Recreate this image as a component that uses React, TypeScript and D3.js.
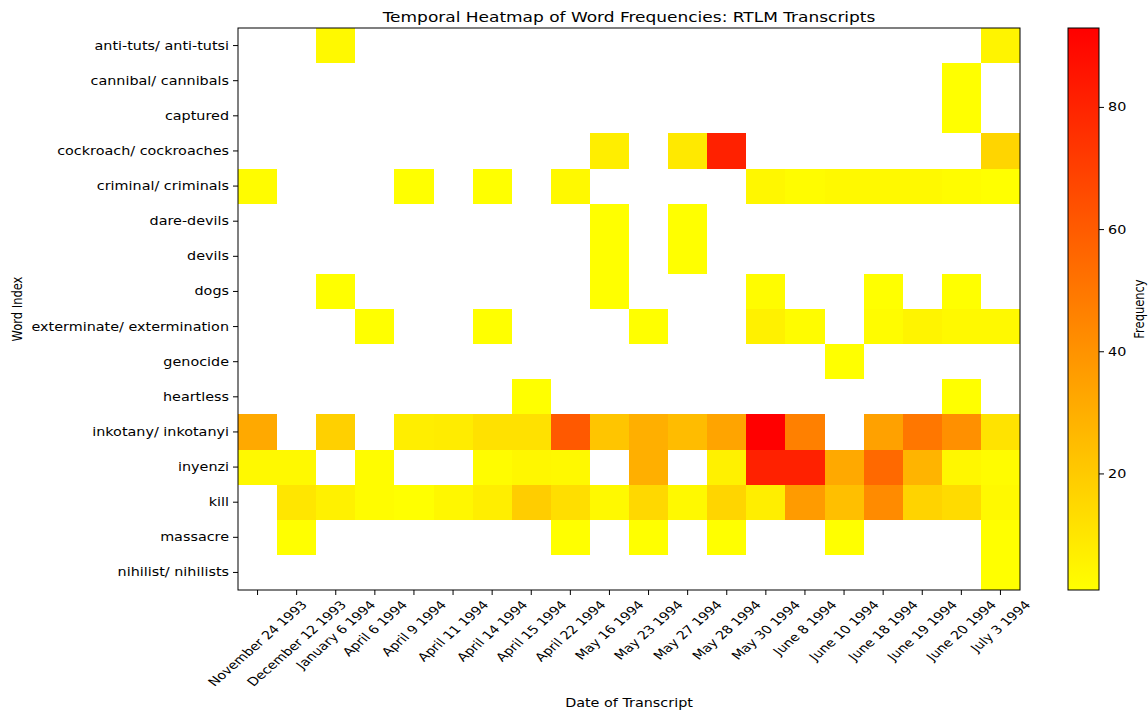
import * as d3 from "d3";

const words = [
  "anti-tuts/ anti-tutsi",
  "cannibal/ cannibals",
  "captured",
  "cockroach/ cockroaches",
  "criminal/ criminals",
  "dare-devils",
  "devils",
  "dogs",
  "exterminate/ extermination",
  "genocide",
  "heartless",
  "inkotany/ inkotanyi",
  "inyenzi",
  "kill",
  "massacre",
  "nihilist/ nihilists",
];

const dates = [
  "November 24 1993",
  "December 12 1993",
  "January 6 1994",
  "April 6 1994",
  "April 9 1994",
  "April 11 1994",
  "April 14 1994",
  "April 15 1994",
  "April 22 1994",
  "May 16 1994",
  "May 23 1994",
  "May 27 1994",
  "May 28 1994",
  "May 30 1994",
  "June 8 1994",
  "June 10 1994",
  "June 18 1994",
  "June 19 1994",
  "June 20 1994",
  "July 3 1994",
];

// one row per word, one value per date (0 = not mentioned)
const antiTutsi = [0, 0, 3, 0, 0, 0, 0, 0, 0, 0, 0, 0, 0, 0, 0, 0, 0, 0, 0, 5];
const cannibal = [0, 0, 0, 0, 0, 0, 0, 0, 0, 0, 0, 0, 0, 0, 0, 0, 0, 0, 1, 0];
const captured = [0, 0, 0, 0, 0, 0, 0, 0, 0, 0, 0, 0, 0, 0, 0, 0, 0, 0, 1, 0];
const cockroach = [0, 0, 0, 0, 0, 0, 0, 0, 0, 7, 0, 9, 81, 0, 0, 0, 0, 0, 0, 16];
const criminal = [2, 0, 0, 0, 1, 0, 1, 0, 3, 0, 0, 0, 0, 4, 2, 3, 3, 3, 2, 1];
const dareDevils = [0, 0, 0, 0, 0, 0, 0, 0, 0, 1, 0, 1, 0, 0, 0, 0, 0, 0, 0, 0];
const devils = [0, 0, 0, 0, 0, 0, 0, 0, 0, 1, 0, 1, 0, 0, 0, 0, 0, 0, 0, 0];
const dogs = [0, 0, 1, 0, 0, 0, 0, 0, 0, 1, 0, 0, 0, 2, 0, 0, 1, 0, 1, 0];
const exterminate = [0, 0, 0, 1, 0, 0, 1, 0, 0, 0, 1, 0, 0, 6, 2, 0, 2, 5, 3, 3];
const genocide = [0, 0, 0, 0, 0, 0, 0, 0, 0, 0, 0, 0, 0, 0, 0, 1, 0, 0, 0, 0];
const heartless = [0, 0, 0, 0, 0, 0, 0, 1, 0, 0, 0, 0, 0, 0, 0, 0, 0, 0, 1, 0];
const inkotany = [32, 0, 18, 0, 7, 8, 12, 12, 61, 22, 30, 25, 34, 93, 47, 0, 35, 50, 41, 11];
const inyenzi = [3, 3, 0, 2, 0, 0, 2, 4, 3, 0, 30, 0, 6, 81, 81, 32, 55, 28, 4, 2];
const kill = [0, 10, 6, 2, 1, 4, 7, 19, 13, 3, 15, 3, 16, 7, 37, 24, 43, 17, 14, 3];
const massacre = [0, 1, 0, 0, 0, 0, 0, 0, 1, 0, 1, 0, 1, 0, 0, 1, 0, 0, 0, 1];
const nihilist = [0, 0, 0, 0, 0, 0, 0, 0, 0, 0, 0, 0, 0, 0, 0, 0, 0, 0, 0, 1];

const counts = [
  antiTutsi, cannibal, captured, cockroach, criminal, dareDevils, devils, dogs,
  exterminate, genocide, heartless, inkotany, inyenzi, kill, massacre, nihilist,
];

const colorTicks = [20, 40, 60, 80];

const FONT = "DejaVu Sans, sans-serif";
// the reference picture is stretched sideways, text included
const SX = 1.25;
const LABEL_ANGLE = 47.5;

const measure = (() => {
  const ctx = document.createElement("canvas").getContext("2d")!;
  return (s: string, size: number) => {
    ctx.font = `${size}px DejaVu Sans`;
    return ctx.measureText(s).width;
  };
})();

type LabelProps = {
  x: number;
  y: number;
  rotate?: number;
  size: number;
  anchor?: "start" | "middle" | "end";
  baseline?: string;
  children: string | number;
};

const Label = ({ x, y, rotate = 0, size, anchor = "start", baseline, children }: LabelProps) => (
  <text
    transform={`translate(${x},${y}) scale(${SX},1) rotate(${rotate})`}
    textAnchor={anchor}
    dominantBaseline={baseline}
    fontSize={size}
  >
    {children}
  </text>
);

export default function App() {
  const W = 1148;
  const H = 712;
  const left = 238;
  const right = 1020;
  const top = 28;
  const bottom = 590;

  const x = d3.scaleBand<string>().domain(dates).range([left, right]);
  const y = d3.scaleBand<string>().domain(words).range([top, bottom]);

  const vmin = 1;
  const vmax = 93;
  const color = d3.scaleLinear<string>().domain([vmin, vmax]).range(["#ffff00", "#ff0000"]);

  const cbLeft = 1068;
  const cbW = 31;
  const cbY = d3.scaleLinear().domain([vmin, vmax]).range([bottom, top]);

  const tickSize = 11.5;
  const labelH = tickSize * 1.17;
  const a = (LABEL_ANGLE * Math.PI) / 180;

  return (
    <svg
      width={W}
      height={H}
      style={{ position: "absolute", left: 0, top: 0, background: "#fff" }}
      fontFamily={FONT}
    >
      <defs>
        <linearGradient id="cb" x1="0" y1="1" x2="0" y2="0">
          <stop offset="0%" stopColor={color(vmin)} />
          <stop offset="100%" stopColor={color(vmax)} />
        </linearGradient>
      </defs>

      {counts.map((row, i) =>
        row.map((v, j) =>
          v > 0 ? (
            <rect
              key={`${i}-${j}`}
              x={x(dates[j])}
              y={y(words[i])}
              width={x.bandwidth()}
              height={y.bandwidth()}
              fill={color(v)}
              shapeRendering="crispEdges"
            />
          ) : null
        )
      )}

      <rect x={left} y={top} width={right - left} height={bottom - top} fill="none" stroke="#000" strokeWidth={1} />

      {words.map((w) => {
        const cy = y(w)! + y.bandwidth() / 2;
        return (
          <g key={w}>
            <line x1={left} x2={left - 5} y1={cy} y2={cy} stroke="#000" />
            <Label x={left - 9} y={cy} size={tickSize} anchor="end" baseline="central">
              {w}
            </Label>
          </g>
        );
      })}

      {dates.map((d) => {
        const cx = x(d)! + x.bandwidth() / 2;
        const w = measure(d, tickSize);
        const boxH = w * Math.sin(a) + labelH * Math.cos(a);
        const cy = bottom + 8 + boxH / 2;
        return (
          <g key={d}>
            <line x1={cx} x2={cx} y1={bottom} y2={bottom + 5} stroke="#000" />
            <Label x={cx} y={cy} rotate={-LABEL_ANGLE} size={tickSize} anchor="middle" baseline="central">
              {d}
            </Label>
          </g>
        );
      })}

      <Label x={(left + right) / 2} y={22} size={13.6} anchor="middle">
        Temporal Heatmap of Word Frequencies: RTLM Transcripts
      </Label>
      <Label x={(left + right) / 2} y={707} size={tickSize} anchor="middle">
        Date of Transcript
      </Label>
      <Label x={22} y={(top + bottom) / 2} rotate={-90} size={tickSize} anchor="middle">
        Word Index
      </Label>

      <rect x={cbLeft} y={top} width={cbW} height={bottom - top} fill="url(#cb)" stroke="#000" strokeWidth={1} />
      {colorTicks.map((t) => (
        <g key={t}>
          <line x1={cbLeft + cbW} x2={cbLeft + cbW + 5} y1={cbY(t)} y2={cbY(t)} stroke="#000" />
          <Label x={cbLeft + cbW + 9} y={cbY(t)} size={tickSize} baseline="central">
            {t}
          </Label>
        </g>
      ))}
      <Label x={1144} y={(top + bottom) / 2} rotate={-90} size={tickSize} anchor="middle">
        Frequency
      </Label>
    </svg>
  );
}
